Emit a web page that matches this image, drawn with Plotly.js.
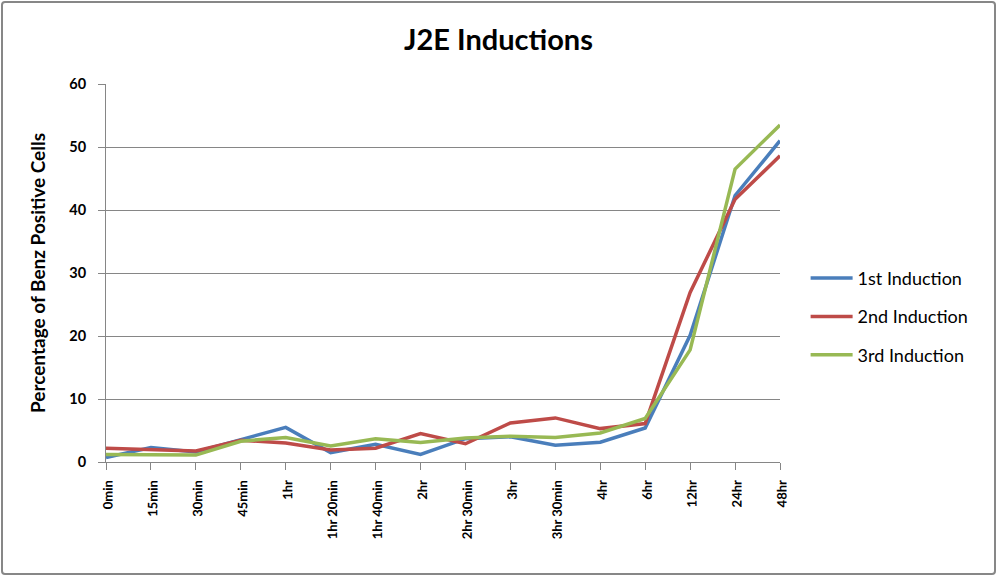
<!DOCTYPE html>
<html>
<head>
<meta charset="utf-8">
<script src="https://cdn.plot.ly/plotly-3.0.1.min.js"></script>
<style>
  body { margin: 0; background: #fff; }
  #wrap { position: relative; width: 997px; height: 576px; }
  #frame {
    position: absolute; left: 1px; top: 1px; width: 991px; height: 570px;
    border: 2px solid #878787; border-radius: 4px; pointer-events: none;
  }
</style>
</head>
<body>
<div id="wrap">
  <div id="j2e-chart" style="width:997px;height:576px;"></div>
  <div id="frame"></div>
</div>
<script>
// chart data
const timePoints = ['0min', '15min', '30min', '45min', '1hr', '1hr 20min', '1hr 40min', '2hr',
  '2hr 30min', '3hr', '3hr 30min', '4hr', '6hr', '12hr', '24hr', '48hr']
const firstInduction = [0.7, 2.3, 1.6, 3.6, 5.5, 1.5, 2.8, 1.2, 3.7, 4.0, 2.65, 3.15, 5.4, 20.1, 42.3, 51.0]
const secondInduction = [2.2, 2.0, 1.75, 3.45, 3.0, 1.9, 2.2, 4.5, 2.9, 6.2, 7.0, 5.3, 6.1, 26.9, 41.7, 48.6]
const thirdInduction = [1.2, 1.1, 1.1, 3.3, 3.9, 2.55, 3.7, 3.1, 3.8, 4.1, 3.9, 4.6, 6.9, 17.8, 46.5, 53.5]
const seriesNames = ['1st Induction', '2nd Induction', '3rd Induction']

//excel 2007 style look
const font = "Lato, 'Open Sans', sans-serif"
const gridColor = '#868686'
const seriesColors = ['#4a7ebb', '#be4b48', '#98b954']

let traces = [firstInduction, secondInduction, thirdInduction].map((vals, i) => ({
  x: timePoints,
  y: vals,
  name: seriesNames[i],
  type: 'scatter',
  mode: 'lines',
  line: { color: seriesColors[i], width: 3.5 },
  legendgroup: 'g' + i,
  hoverinfo: 'x+y+name',
}))

let layout = {
  width: 997,
  height: 576,
  margin: { l: 106, r: 217, t: 84, b: 114 },
  paper_bgcolor: '#fff',
  plot_bgcolor: '#fff',
  font: { family: font, color: '#000' },
  title: {
    text: '<b>J2E Inductions</b>',
    font: { family: font, size: 29, color: '#000' },
    x: 0.5,
    xanchor: 'center',
    yref: 'container',
    y: 0.93,
    yanchor: 'middle',
  },
  xaxis: {
    type: 'category',
    range: [0, timePoints.length - 1],
    showline: true,
    linecolor: gridColor,
    linewidth: 1,
    ticks: 'outside',
    ticklen: 7,
    tickcolor: gridColor,
    //slightly off -90 so labels hang from the axis instead of centering
    tickangle: -89.9,
    ticklabelstandoff: 1,
    tickfont: { family: font, size: 13, color: '#000', weight: 'bold' },
    showgrid: false,
    zeroline: false,
    automargin: false,
  },
  yaxis: {
    range: [0, 60],
    dtick: 10,
    showline: true,
    linecolor: gridColor,
    linewidth: 1,
    ticks: 'outside',
    ticklen: 7,
    tickcolor: gridColor,
    ticklabelstandoff: 9,
    tickfont: { family: font, size: 14.5, color: '#000', weight: 'bold' },
    showgrid: true,
    gridcolor: gridColor,
    gridwidth: 1,
    zeroline: false,
    automargin: false,
    title: {
      text: '<b>Percentage of Benz Positive Cells</b>',
      font: { family: font, size: 19, color: '#000' },
      standoff: 18,
    },
  },
  showlegend: true,
  legend: {
    x: 1.038,
    xanchor: 'left',
    y: 0.384,
    yanchor: 'middle',
    traceorder: 'grouped',
    tracegroupgap: 12,
    itemwidth: 42,
    font: { family: font, size: 18, color: '#000' },
    bgcolor: 'rgba(0,0,0,0)',
  },
}

Plotly.newPlot('j2e-chart', traces, layout, { displayModeBar: false, staticPlot: true })
</script>
</body>
</html>
